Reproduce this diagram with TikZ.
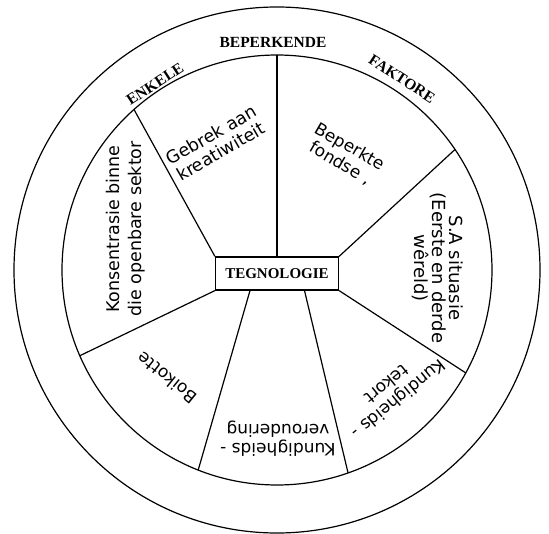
\documentclass[tikz,border=0pt]{standalone}
\usepackage{fontspec}
\setmainfont{Liberation Serif}
\newfontfamily\segfont{DejaVu Sans}

\begin{document}
\begin{tikzpicture}[x=1pt, y=1pt, line width=1.2pt] % Styles
\tikzstyle{ring}=[font=\fontsize{15.5}{18}\selectfont\bfseries]
\tikzstyle{segment}=[align=center, font=\segfont\fontsize{17}{19}\selectfont]
\tikzstyle{centre}=[draw, line width=1.2pt, minimum width=123pt, minimum height=33pt, inner sep=0pt, font=\fontsize{15}{17}\selectfont\bfseries]
\useasboundingbox (-277,-263) rectangle (272,270);
\draw (0,0) circle (263);
\draw (0,0) circle (215); % Nodes
\node[centre] (tegno) at (0,-3.5) {TEGNOLOGIE};
\node[ring] (beperkende) at (-4,228) {BEPERKENDE};
\node[ring, rotate=33] (enkele) at (-122,186) {ENKELE};
\node[ring, rotate=-33] (faktore) at (125,191) {FAKTORE};
\node[segment, rotate=30, font=\segfont\fontsize{17.5}{19}\selectfont] (kreatief) at (-61,127) {Gebrek aan\\kreatiwiteit};
\node[segment, rotate=-30] (fondse) at (68,115) {Beperkte\\fondse ,};
\node[segment, rotate=90, font=\segfont\fontsize{17.5}{22}\selectfont] (openbaar) at (-151,41) {Konsentrasie binne\\die openbare sektor};
\node[segment, rotate=-90, font=\segfont\fontsize{18}{17.5}\selectfont] (situasie) at (161,2) {S.A situasie\\(Eerste en derde\\wêreld)};
\node[segment, rotate=141] (boikot) at (-110,-108) {Boikotte};
\node[segment, rotate=180] (veroud) at (1,-169) {Kundigheids -\\veroudering};
\node[segment, rotate=219] (tekort) at (116,-122) {Kundigheids -\\tekort}; % Rim points
\coordinate (rim1) at (90:215);
\coordinate (rim2) at (131.7:215);
\coordinate (rim3) at (34.1:215);
\coordinate (rim4) at (203.5:215);
\coordinate (rim5) at (248.5:215);
\coordinate (rim6) at (289.3:215);
\coordinate (rim7) at (331.4:215);
\coordinate (foot5) at ([xshift=-27pt]tegno.south);
\coordinate (foot6) at ([xshift=27.5pt]tegno.south); % Connections
\draw (tegno.north) -- (rim1);
\draw (tegno.north west) -- (rim2);
\draw (tegno.north east) -- (rim3);
\draw (tegno.south west) -- (rim4);
\draw (foot5) -- (rim5);
\draw (foot6) -- (rim6);
\draw (tegno.south east) -- (rim7);
\end{tikzpicture}
\end{document}
